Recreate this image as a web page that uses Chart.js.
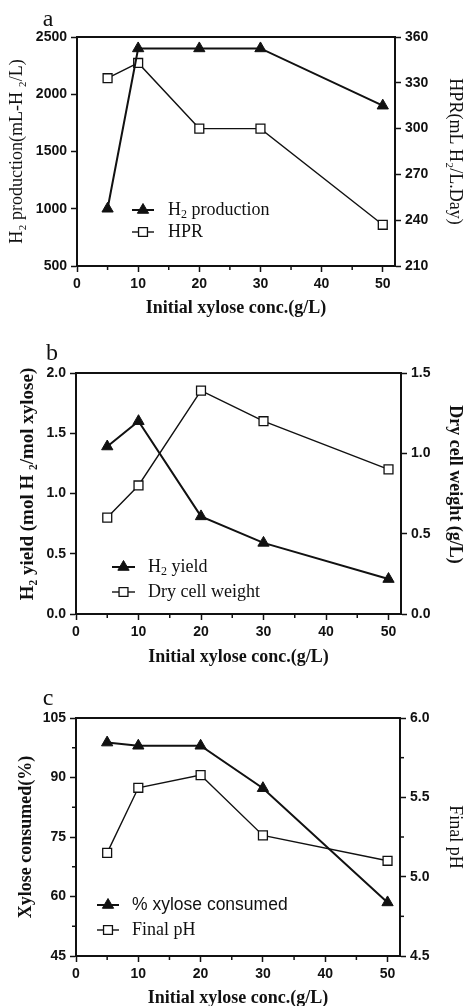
<!DOCTYPE html>
<html><head><meta charset="utf-8">
<script src="https://cdn.jsdelivr.net/npm/chart.js@4"></script>
<style>
html,body{margin:0;padding:0;background:#fff;width:464px;height:1006px;overflow:hidden}
canvas{position:absolute;left:0}
</style></head><body>
<canvas id="ca" width="464" height="325" style="top:0px"></canvas>
<canvas id="cb" width="464" height="350" style="top:325px"></canvas>
<canvas id="cc" width="464" height="331" style="top:675px"></canvas>
<script>
// ---- data ----
const xValues = [5, 10, 20, 30, 50];
const h2Production = [1000, 2400, 2400, 2400, 1900];
const hpr = [333, 343, 300, 300, 237];
const h2Yield = [1.39, 1.6, 0.81, 0.59, 0.29];
const dryCellWeight = [0.6, 0.8, 1.39, 1.2, 0.9];
const xyloseConsumed = [98.8, 98, 98, 87.3, 58.5];
const finalPH = [5.15, 5.56, 5.64, 5.26, 5.1];

const xTicks = [0, 10, 20, 30, 40, 50];
const xMinorTicks = [5, 15, 25, 35, 45];
const aLeftTicks = [500, 1000, 1500, 2000, 2500];
const aRightTicks = [210, 240, 270, 300, 330, 360];
const bLeftTicks = [0, 0.5, 1, 1.5, 2];
const bRightTicks = [0, 0.5, 1, 1.5];
const cLeftTicks = [45, 60, 75, 90, 105];
const cRightTicks = [4.5, 5, 5.5, 6];
const cLeftMinor = [52.5, 67.5, 82.5, 97.5];
const cRightMinor = [4.75, 5.25, 5.75];

const SERIF = "'Liberation Serif','Times New Roman',serif";
const SANS = "'Liberation Sans',Arial,sans-serif";
const INK = '#111';

function pts(ys) { return xValues.map((x, i) => ({x: x, y: ys[i]})); }

function makeChart(id, cfg) {
  const overlay = {
    id: 'overlay' + id,
    afterDraw(chart) {
      const ctx = chart.ctx, ca = chart.chartArea;
      ctx.save();
      // top border
      ctx.strokeStyle = INK; ctx.lineWidth = 2;
      ctx.beginPath(); ctx.moveTo(ca.left - 1, ca.top); ctx.lineTo(ca.right + 1, ca.top); ctx.stroke();
      // minor ticks
      ctx.lineWidth = 1.5;
      const xs = chart.scales.x;
      cfg.xMinor.forEach(v => {
        const px = xs.getPixelForValue(v);
        ctx.beginPath(); ctx.moveTo(px, ca.bottom); ctx.lineTo(px, ca.bottom + 4); ctx.stroke();
      });
      (cfg.yMinor || []).forEach(v => {
        const py = chart.scales.y.getPixelForValue(v);
        ctx.beginPath(); ctx.moveTo(ca.left, py); ctx.lineTo(ca.left - 4, py); ctx.stroke();
      });
      (cfg.y2Minor || []).forEach(v => {
        const py = chart.scales.y2.getPixelForValue(v);
        ctx.beginPath(); ctx.moveTo(ca.right, py); ctx.lineTo(ca.right + 4, py); ctx.stroke();
      });
      // panel letter
      ctx.fillStyle = INK;
      ctx.font = '24px ' + SERIF;
      ctx.textBaseline = 'alphabetic'; ctx.textAlign = 'center';
      ctx.fillText(cfg.letter, cfg.letterX, cfg.letterY);
      // legend
      const L = cfg.legend;
      L.items.forEach((it, i) => {
        const y = L.y[i];
        ctx.strokeStyle = INK; ctx.lineWidth = it.lw;
        ctx.beginPath(); ctx.moveTo(L.x1, y); ctx.lineTo(L.x2, y); ctx.stroke();
        ctx.fillStyle = it.fill; ctx.strokeStyle = INK; ctx.lineWidth = it.bw;
        Chart.helpers.drawPoint(ctx, {pointStyle: it.style, radius: it.r, borderWidth: it.bw, rotation: 0}, (L.x1 + L.x2) / 2, y);
        ctx.fillStyle = INK; ctx.textAlign = 'left'; ctx.textBaseline = 'middle';
        let tx = L.tx;
        it.parts.forEach(p => {
          if (p.sub) {
            ctx.font = '12px ' + (it.font || SERIF);
            ctx.fillText(p.t, tx, y + 5);
          } else {
            ctx.font = (it.size || 18) + 'px ' + (it.font || SERIF);
            ctx.fillText(p.t, tx, y);
          }
          tx += ctx.measureText(p.t).width;
        });
      });
      ctx.restore();
    }
  };

  const tickFont = {family: SANS, size: 14, weight: 'bold'};
  return new Chart(document.getElementById(id), {
    type: 'line',
    data: {
      datasets: [
        {label: cfg.s1Label, data: pts(cfg.s1), yAxisID: 'y', borderColor: INK, backgroundColor: INK,
         borderWidth: 2, pointStyle: 'triangle', pointRadius: 6.5, pointBackgroundColor: INK,
         pointBorderColor: INK, pointBorderWidth: 1, tension: 0, clip: false},
        {label: cfg.s2Label, data: pts(cfg.s2), yAxisID: 'y2', borderColor: INK, backgroundColor: '#fff',
         borderWidth: 1.4, pointStyle: 'rect', pointRadius: 6.3, pointBackgroundColor: '#fff',
         pointBorderColor: INK, pointBorderWidth: 1.3, tension: 0, clip: false}
      ]
    },
    options: {
      responsive: false, animation: false, devicePixelRatio: 1,
      layout: {padding: {top: cfg.top, left: 0, right: 0, bottom: 0}},
      plugins: {legend: {display: false}, tooltip: {enabled: false}},
      scales: {
        x: {
          type: 'linear', min: 0, max: 52,
          afterBuildTicks: s => { s.ticks = xTicks.map(v => ({value: v})); },
          afterFit: s => { s.height = cfg.xH; },
          ticks: {color: INK, font: tickFont, padding: 4, autoSkip: false, maxRotation: 0},
          grid: {drawOnChartArea: false, drawTicks: true, tickLength: 6, tickWidth: 1.5, tickColor: INK, color: INK},
          border: {display: true, color: INK, width: 2},
          title: {display: true, text: 'Initial xylose conc.(g/L)', color: INK,
                  font: {family: SERIF, size: 18, weight: 'bold', lineHeight: cfg.xTitleLH},
                  padding: {top: 0, bottom: cfg.xTitlePad}}
        },
        y: {
          type: 'linear', position: 'left', min: cfg.yMin, max: cfg.yMax,
          afterBuildTicks: s => { s.ticks = cfg.yTicks.map(v => ({value: v})); },
          afterFit: s => { s.width = cfg.left; },
          ticks: {color: INK, font: tickFont, padding: 4, autoSkip: false, callback: cfg.yFmt},
          grid: {drawOnChartArea: false, drawTicks: true, tickLength: 6, tickWidth: 1.5, tickColor: INK, color: INK},
          border: {display: true, color: INK, width: 2},
          title: {display: true, text: cfg.yTitle, color: INK,
                  font: {family: SERIF, size: cfg.yTitleSize || 18, weight: cfg.yTitleW, lineHeight: 1.2},
                  padding: {top: cfg.yTitlePad, bottom: 0}}
        },
        y2: {
          type: 'linear', position: 'right', min: cfg.y2Min, max: cfg.y2Max,
          afterBuildTicks: s => { s.ticks = cfg.y2Ticks.map(v => ({value: v})); },
          afterFit: s => { s.width = 464 - cfg.right; },
          ticks: {color: INK, font: tickFont, padding: 4, autoSkip: false, callback: cfg.y2Fmt},
          grid: {drawOnChartArea: false, drawTicks: true, tickLength: 6, tickWidth: 1.5, tickColor: INK, color: INK},
          border: {display: true, color: INK, width: 2},
          title: {display: true, text: cfg.y2Title, color: INK,
                  font: {family: SERIF, size: 18, weight: cfg.y2TitleW, lineHeight: 1},
                  padding: {top: 0, bottom: 0}}
        }
      }
    },
    plugins: [overlay]
  });
}

const f0 = v => String(v);
const f1 = v => Number(v).toFixed(1);

makeChart('ca', {
  top: 37, xH: 325 - 266, left: 77, right: 395,
  xTitleLH: 1, xTitlePad: 8,
  s1: h2Production, s2: hpr, s1Label: 'H2 production', s2Label: 'HPR',
  yMin: 500, yMax: 2500, yTicks: aLeftTicks, yFmt: f0,
  y2Min: 210, y2Max: 360, y2Ticks: aRightTicks, y2Fmt: f0,
  yTitle: 'H\u2082 production(mL-H \u2082/L)', yTitleW: 'normal', yTitlePad: 6,
  y2Title: 'HPR(mL H\u2082/L.Day)', y2TitleW: 'normal',
  xMinor: xMinorTicks, yMinor: [], y2Minor: [],
  letter: 'a', letterX: 48, letterY: 26,
  legend: {x1: 132, x2: 154, tx: 168, y: [210, 232], items: [
    {style: 'triangle', r: 6.5, fill: INK, bw: 1, lw: 2, parts: [{t: 'H'}, {t: '2', sub: true}, {t: ' production'}]},
    {style: 'rect', r: 6.3, fill: '#fff', bw: 1.3, lw: 1.4, parts: [{t: 'HPR'}]}
  ]}
});

makeChart('cb', {
  top: 48, xH: 350 - 289, left: 76, right: 401,
  xTitleLH: 1, xTitlePad: 9,
  s1: h2Yield, s2: dryCellWeight, s1Label: 'H2 yield', s2Label: 'Dry cell weight',
  yMin: 0, yMax: 2, yTicks: bLeftTicks, yFmt: f1,
  y2Min: 0, y2Max: 1.5, y2Ticks: bRightTicks, y2Fmt: f1,
  yTitle: '    H\u2082 yield (mol H \u2082/mol xylose)', yTitleW: 'bold', yTitlePad: 17, yTitleSize: 19,
  y2Title: 'Dry cell weight (g/L)    ', y2TitleW: 'bold',
  xMinor: xMinorTicks, yMinor: [], y2Minor: [],
  letter: 'b', letterX: 52, letterY: 35,
  legend: {x1: 112, x2: 135, tx: 148, y: [242, 267], items: [
    {style: 'triangle', r: 6.5, fill: INK, bw: 1, lw: 2, parts: [{t: 'H'}, {t: '2', sub: true}, {t: ' yield'}]},
    {style: 'rect', r: 6.3, fill: '#fff', bw: 1.3, lw: 1.4, parts: [{t: 'Dry cell weight'}]}
  ]}
});

makeChart('cc', {
  top: 43, xH: 331 - 281, left: 76, right: 400,
  xTitleLH: 0.8, xTitlePad: 0,
  s1: xyloseConsumed, s2: finalPH, s1Label: '% xylose consumed', s2Label: 'Final pH',
  yMin: 45, yMax: 105, yTicks: cLeftTicks, yFmt: f0,
  y2Min: 4.5, y2Max: 6, y2Ticks: cRightTicks, y2Fmt: f1,
  yTitle: 'Xylose consumed(%)', yTitleW: 'bold', yTitlePad: 16,
  y2Title: 'Final pH', y2TitleW: 'normal',
  xMinor: xMinorTicks, yMinor: cLeftMinor, y2Minor: cRightMinor,
  letter: 'c', letterX: 48, letterY: 30,
  legend: {x1: 97, x2: 119, tx: 132, y: [230, 255], items: [
    {style: 'triangle', r: 6.5, fill: INK, bw: 1, lw: 2, font: SANS, size: 17.5, parts: [{t: '% xylose consumed'}]},
    {style: 'rect', r: 6.3, fill: '#fff', bw: 1.3, lw: 1.4, parts: [{t: 'Final pH'}]}
  ]}
});
</script>
</body></html>
